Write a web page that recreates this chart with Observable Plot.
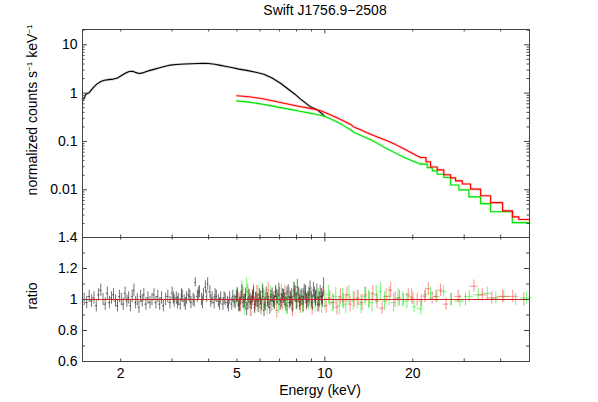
<!DOCTYPE html>
<html><head><meta charset="utf-8">
<script src="https://cdn.jsdelivr.net/npm/d3@7"></script>
<script src="https://cdn.jsdelivr.net/npm/@observablehq/plot@0.6"></script>
<style>
body{margin:0;background:#fff;}
#wrap{position:relative;width:598px;height:402px;font-family:"Liberation Sans",Arial,sans-serif;}
#wrap svg{position:absolute;left:0;top:0;}
</style></head><body><div id="wrap"></div>
<script>
// ---------- data ----------
const titleText = "Swift J1756.9\u22122508";
const xTickLabels = [2, 5, 10, 20];
const xMajorTicks = [10];
const xMinorTicks = [2, 3, 4, 5, 6, 7, 8, 9, 20, 30, 40];
const yTopLabels = [10, 1, 0.1, 0.01];
const yTopMajor = [0.01, 0.1, 1, 10];
const yTopMinor = [0.002,0.003,0.004,0.005,0.006,0.007,0.008,0.009,
  0.02,0.03,0.04,0.05,0.06,0.07,0.08,0.09,0.2,0.3,0.4,0.5,0.6,0.7,0.8,0.9,
  2,3,4,5,6,7,8,9,20];
const yRatioMajor = [0.6, 0.8, 1, 1.2, 1.4];
const yRatioMinor = [0.7, 0.9, 1.1, 1.3];

// spectra (energy keV, normalized counts)
const blackSpec = [[1.48,0.75],[1.50,0.77],[1.515,0.92],[1.53,0.97],[1.56,1.02],[1.59,1.18],[1.62,1.35],[1.66,1.55],[1.71,1.74],[1.76,1.85],[1.82,1.90],[1.89,1.95],[1.95,2.05],[2.02,2.35],[2.08,2.6],[2.14,2.8],[2.20,2.82],[2.26,2.65],[2.31,2.55],[2.38,2.62],[2.45,2.8],[2.52,2.95],[2.60,3.1],[2.70,3.3],[2.80,3.5],[2.96,3.8],[3.10,3.9],[3.30,4.0],[3.50,4.05],[3.66,4.1],[3.85,4.15],[4.00,4.1],[4.20,3.95],[4.39,3.75],[4.60,3.55],[4.80,3.38],[5.08,3.14],[5.40,2.95],[5.80,2.7],[6.18,2.45],[6.60,2.05],[7.05,1.6],[7.50,1.2],[7.90,0.95],[8.26,0.75],[8.60,0.62],[8.93,0.52],[9.42,0.45],[9.70,0.39],[9.95,0.34]];
const redSpec = [[5.0,0.88],[5.5,0.84],[6.0,0.78],[6.5,0.71],[7.05,0.64],[7.6,0.58],[8.2,0.53],[8.8,0.49],[9.3,0.46],[9.67,0.43],[10.2,0.38],[11.0,0.31],[11.6,0.265],[12.25,0.225],[12.57,0.2],[13.3,0.172],[14.2,0.145],[15.2,0.122],[16.36,0.103],[17.4,0.087],[18.5,0.072],[19.7,0.059],[20.5,0.052],[21.3,0.0464]];
const redSteps = [[21.3,0.0464],[22.2,0.038],[23.01,0.0297],[24.26,0.0258],[25.55,0.0204],[26.95,0.0176],[28.03,0.0153],[29.55,0.0132],[31.55,0.0103],[34.14,0.0075],[36.94,0.00543],[40.6,0.00366],[43.9,0.00275],[46.17,0.00242],[50.2,0.00242]];
const greenSpec = [[5.0,0.69],[5.5,0.65],[6.0,0.60],[6.5,0.55],[7.05,0.50],[7.6,0.46],[8.2,0.42],[8.8,0.39],[9.3,0.365],[9.92,0.335],[10.5,0.29],[11.2,0.24],[11.7,0.205],[12.25,0.175],[12.57,0.155],[13.4,0.13],[14.3,0.11],[15.3,0.088],[16.36,0.07],[17.4,0.058],[18.5,0.048],[19.7,0.041],[20.5,0.037],[21.27,0.0339]];
const greenSteps = [[21.27,0.0339],[22.42,0.0288],[23.32,0.0246],[24.26,0.0210],[25.55,0.0179],[26.95,0.0126],[28.77,0.00995],[31.13,0.00713],[34.14,0.00518],[36.94,0.0035],[43.84,0.00209],[50.2,0.00209]];

// ratio (energy, ratio, error)
const blackRatio = [[1.50,1.00,.04],[1.53,0.98,.04],[1.56,1.02,.04],[1.59,0.99,.04],[1.62,1.01,.04],[1.65,0.96,.04],[1.68,1.03,.04],[1.71,1.06,.04],[1.74,1.00,.04],[1.77,0.97,.04],[1.80,1.04,.04],[1.83,0.98,.04],[1.86,1.01,.04],[1.89,1.03,.04],[1.92,0.99,.04],[1.95,0.96,.04],[1.98,1.02,.04],[2.01,1.00,.04],[2.04,0.97,.04],[2.07,1.04,.04],[2.10,0.99,.04],[2.13,1.01,.04],[2.16,0.96,.04],[2.19,1.02,.04],[2.22,1.06,.04],[2.25,0.98,.04],[2.28,1.00,.04],[2.31,0.95,.04],[2.34,1.02,.04],[2.37,0.99,.04],[2.40,1.03,.04],[2.44,0.97,.04],[2.48,1.01,.04],[2.52,0.98,.04],[2.56,1.00,.04],[2.60,1.03,.04],[2.64,0.98,.04],[2.68,1.02,.04],[2.72,0.97,.04],[2.76,1.01,.04],[2.80,0.96,.04],[2.85,1.00,.04],[2.90,1.02,.04],[2.95,0.98,.04],[3.00,1.04,.04],[3.05,0.99,.04],[3.10,1.01,.04],[3.15,1.00,.04],[3.20,0.97,.04],[3.25,1.02,.04],[3.30,0.99,.04],[3.36,1.01,.04],[3.42,1.03,.04],[3.48,0.98,.04],[3.54,1.00,.04],[3.60,1.11,.03],[3.66,1.02,.04],[3.72,1.05,.04],[3.78,1.00,.04],[3.84,1.03,.04],[3.90,1.08,.04],[3.97,1.10,.04],[4.04,1.05,.04],[4.11,1.01,.04],[4.18,0.98,.04],[4.25,1.02,.04],[4.32,0.99,.04],[4.40,1.01,.04],[4.48,0.97,.04],[4.56,1.00,.04],[4.64,0.98,.04],[4.72,1.01,.04],[4.80,0.97,.04],[4.89,0.99,.04],[4.98,1.02,.04],[5.07,0.96,.04],[5.16,1.01,.04],[5.25,0.98,.04],[5.35,1.03,.04],[5.45,0.97,.04],[5.55,1.00,.04],[5.65,1.02,.04],[5.75,0.95,.04],[5.86,0.99,.04],[5.97,1.03,.04],[6.08,0.97,.04],[6.19,0.93,.04],[6.30,1.04,.04],[6.42,0.98,.04],[6.54,1.02,.04],[6.66,0.99,.04],[6.78,1.05,.04],[6.90,1.01,.04],[7.03,0.97,.04],[7.16,1.03,.04],[7.29,1.00,.04],[7.42,1.04,.04],[7.56,0.98,.04],[7.70,1.02,.05],[7.84,1.06,.05],[7.98,0.99,.05],[8.13,1.03,.05],[8.28,1.01,.05],[8.43,0.97,.05],[8.58,1.04,.05],[8.74,1.00,.05],[8.90,1.07,.05],[9.06,0.98,.05],[9.22,1.03,.05],[9.39,1.05,.05],[9.56,1.00,.05],[9.73,1.02,.05],[9.90,1.08,.06]];
const blackRatioExtra = [[3.03,1.01,.04],[3.13,0.98,.04],[3.23,1.03,.04],[3.33,0.97,.04],[3.45,1.02,.04],[3.57,0.99,.04],[3.69,1.04,.04],[3.81,0.98,.04],[3.94,1.02,.04],[4.07,0.99,.04],[4.21,1.03,.04],[4.36,0.97,.04],[4.52,1.01,.04],[4.68,0.96,.04],[4.84,1.02,.04],[4.93,0.98,.04],[5.02,1.03,.045],[5.11,0.97,.045],[5.20,1.05,.045],[5.30,0.99,.045],[5.40,0.94,.045],[5.50,1.02,.045],[5.60,0.98,.045],[5.70,1.04,.045],[5.80,1.00,.045],[5.91,0.96,.045],[6.02,1.01,.045],[6.13,1.05,.045],[6.24,0.97,.045],[6.36,1.00,.045],[6.48,0.95,.045],[6.60,1.03,.045],[6.72,0.98,.045],[6.84,1.02,.045],[6.96,1.06,.045],[7.09,0.99,.045],[7.22,1.02,.045],[7.35,0.97,.045],[7.49,1.05,.045],[7.63,1.00,.05],[7.77,0.97,.05],[7.91,1.04,.05],[8.05,1.08,.05],[8.20,0.98,.05],[8.35,1.02,.05],[8.50,1.05,.05],[8.66,0.99,.05],[8.82,1.03,.05],[8.98,1.00,.05],[9.14,1.06,.05],[9.30,1.01,.05],[9.47,0.97,.05],[9.64,1.04,.05],[9.81,1.00,.05]];
const redRatio = [[5.05,1.00,.05],[5.15,0.97,.05],[5.25,1.03,.05],[5.35,0.98,.05],[5.45,1.05,.05],[5.55,0.95,.06],[5.65,1.01,.05],[5.75,0.97,.05],[5.85,1.04,.05],[5.95,0.99,.05],[6.05,0.95,.05],[6.15,1.02,.05],[6.25,0.98,.05],[6.40,1.06,.05],[6.55,0.97,.05],[6.70,1.00,.05],[6.85,0.93,.05],[7.00,1.03,.05],[7.15,0.98,.05],[7.30,1.04,.05],[7.45,0.96,.05],[7.60,1.01,.05],[7.75,0.94,.05],[7.90,1.03,.05],[8.05,0.99,.05],[8.25,0.96,.05],[8.45,1.02,.05],[8.65,0.98,.05],[8.85,1.01,.05],[9.05,0.95,.05],[9.30,1.00,.05],[9.55,0.97,.05],[9.80,1.02,.05],[10.1,0.96,.05],[10.4,1.01,.05],[10.7,0.98,.05],[11.0,0.95,.05],[11.3,1.02,.05],[11.6,0.99,.05],[11.9,1.03,.05],[12.2,0.97,.05],[12.6,1.00,.05],[13.0,1.01,.05],[13.4,0.98,.05],[13.8,1.03,.05],[14.2,1.00,.05],[14.6,1.04,.05],[15.1,0.99,.05],[15.7,0.944,.04],[16.2,1.02,.05],[16.8,1.06,.05],[17.4,1.00,.05],[18.0,1.01,.05],[18.6,1.00,.04],[19.3,1.03,.04],[20.0,1.01,.04],[20.7,1.00,.04],[21.4,0.99,.04],[22.0,1.02,.04],[22.6,1.07,.04],[23.3,1.01,.04],[24.0,1.02,.04],[24.9,1.06,.04],[26.0,0.97,.04],[27.1,1.00,.04],[28.6,1.02,.04],[30.3,1.00,.04],[32.4,1.086,.04],[34.6,1.03,.04],[37.3,1.01,.04],[40.6,1.02,.04],[44.0,1.02,.04],[48.0,1.00,.045]];
const greenRatio = [[5.0,1.02,.06],[5.1,0.98,.06],[5.2,1.06,.06],[5.3,0.96,.06],[5.4,1.08,.06],[5.5,1.01,.06],[5.6,0.95,.06],[5.7,1.04,.06],[5.8,0.99,.06],[5.9,1.03,.06],[6.0,0.97,.06],[6.1,1.05,.06],[6.2,1.00,.06],[6.35,0.96,.06],[6.5,1.03,.06],[6.65,0.99,.06],[6.8,1.02,.06],[6.95,0.97,.06],[7.1,1.04,.06],[7.25,1.00,.06],[7.4,0.96,.06],[7.55,1.02,.06],[7.7,0.98,.06],[7.85,1.05,.06],[8.0,0.99,.06],[8.2,1.01,.06],[8.4,0.97,.06],[8.6,1.03,.06],[8.8,0.99,.06],[9.0,1.02,.06],[9.25,0.98,.06],[9.5,1.01,.06],[9.75,0.97,.06],[10.0,1.00,.06],[10.3,1.03,.06],[10.6,0.98,.06],[10.9,1.02,.06],[11.2,0.96,.06],[11.5,1.01,.06],[11.8,0.97,.06],[12.1,1.03,.06],[12.5,0.99,.06],[12.9,1.00,.06],[13.3,0.97,.06],[13.7,1.02,.06],[14.1,1.00,.06],[14.5,0.98,.06],[15.0,1.03,.06],[15.5,1.05,.06],[16.0,0.99,.06],[16.6,1.02,.06],[17.2,0.98,.06],[17.8,1.01,.06],[18.4,1.00,.05],[19.1,0.99,.05],[19.8,1.02,.05],[20.2,0.953,.04],[21.3,0.94,.04],[22.1,1.03,.04],[23.0,1.04,.04],[24.2,1.02,.04],[25.5,1.05,.04],[27.0,1.00,.04],[29.0,0.99,.04],[31.2,1.02,.04],[33.5,1.03,.04],[36.0,1.04,.04],[38.5,1.01,.04],[41.0,1.02,.04],[45.0,1.00,.04],[49.0,1.01,.04]];

// ---------- layout ----------
const W = 598, H = 402;
const mL = 82, mR = 69, topT = 29, midY = 237, botB = 361;
const FW = W - mL - mR, TH = midY - topT, BH = botB - midY;
const AX = "#444";
const FONT = "Liberation Sans, Arial, Helvetica, sans-serif";
const xDomain = [1.48, 50.2];

function withBins(rows) {
  return rows.map((d, i) => {
    const prev = i > 0 ? rows[i-1][0] : d[0] * d[0] / rows[i+1][0];
    const next = i < rows.length - 1 ? rows[i+1][0] : d[0] * d[0] / rows[i-1][0];
    return {e: d[0], r: d[1], err: d[2], lo: Math.sqrt(d[0]*prev), hi: Math.sqrt(d[0]*next)};
  });
}
function xTickMarks(vals, len, h) {
  return [Plot.ruleX(vals, {x: d => d, insetTop: h - len, stroke: AX}),
          Plot.ruleX(vals, {x: d => d, insetBottom: h - len, stroke: AX})];
}
function yTickMarks(vals, len) {
  return [Plot.ruleY(vals, {y: d => d, insetRight: FW - len, stroke: AX}),
          Plot.ruleY(vals, {y: d => d, insetLeft: FW - len, stroke: AX})];
}
function errMarks(rows, color, op) {
  const b = withBins(rows);
  return [Plot.ruleX(b, {x: "e", y1: d => d.r - d.err, y2: d => d.r + d.err, stroke: color, strokeOpacity: op}),
          Plot.ruleY(b, {y: "r", x1: "lo", x2: "hi", stroke: color, strokeOpacity: op})];
}
const commonStyle = {background: "transparent", overflow: "visible", fontFamily: FONT};
const blackAll = [...blackRatio, ...blackRatioExtra].sort((a, b) => a[0] - b[0]);

const topPlot = Plot.plot({
  width: W, height: H, marginTop: topT, marginBottom: H - midY, marginLeft: mL, marginRight: mR,
  style: commonStyle,
  x: {type: "log", domain: xDomain, axis: null},
  y: {type: "log", domain: [0.00103, 20.7], axis: null},
  marks: [
    Plot.line(blackSpec, {x: d => d[0], y: d => d[1], stroke: "#888", strokeWidth: 2.6, strokeOpacity: 0.35}),
    Plot.line(blackSpec, {x: d => d[0], y: d => d[1], stroke: "#000", strokeWidth: 1.1}),
    Plot.line(greenSpec, {x: d => d[0], y: d => d[1], stroke: "#66ff66", strokeWidth: 2.6, strokeOpacity: 0.35}),
    Plot.line(greenSteps, {x: d => d[0], y: d => d[1], curve: "step-after", stroke: "#66ff66", strokeWidth: 2.6, strokeOpacity: 0.35}),
    Plot.line(greenSpec, {x: d => d[0], y: d => d[1], stroke: "#00e000", strokeWidth: 1.1}),
    Plot.line(greenSteps, {x: d => d[0], y: d => d[1], curve: "step-after", stroke: "#00e000", strokeWidth: 1.1}),
    Plot.line(redSpec, {x: d => d[0], y: d => d[1], stroke: "#ff6666", strokeWidth: 2.6, strokeOpacity: 0.35}),
    Plot.line(redSteps, {x: d => d[0], y: d => d[1], curve: "step-after", stroke: "#ff6666", strokeWidth: 2.6, strokeOpacity: 0.35}),
    Plot.line(redSpec, {x: d => d[0], y: d => d[1], stroke: "#ff0000", strokeWidth: 1.1}),
    Plot.line(redSteps, {x: d => d[0], y: d => d[1], curve: "step-after", stroke: "#ff0000", strokeWidth: 1.1}),
    ...xTickMarks(xMinorTicks, 2.5, TH),
    ...xTickMarks(xMajorTicks, 4.5, TH),
    ...yTickMarks(yTopMinor, 2.5),
    ...yTickMarks(yTopMajor, 5),
    Plot.text(yTopLabels, {y: d => d, text: d => String(d), frameAnchor: "left", textAnchor: "end", dx: -5, fontSize: 14, fill: "#000", fontFamily: FONT}),
    Plot.frame({stroke: AX})
  ]
});

const botPlot = Plot.plot({
  width: W, height: H, marginTop: midY, marginBottom: H - botB, marginLeft: mL, marginRight: mR,
  style: commonStyle,
  x: {type: "log", domain: xDomain, axis: null},
  y: {type: "linear", domain: [0.6, 1.4], axis: null},
  marks: [
    ...errMarks(greenRatio, "#22ee22", 0.6),
    ...errMarks(redRatio, "#ff2020", 0.5),
    ...errMarks(blackAll, "#000", 0.55),
    Plot.ruleY([1], {stroke: "#d42020", strokeWidth: 1}),
    ...xTickMarks(xMinorTicks, 2.5, BH),
    ...xTickMarks(xMajorTicks, 4.5, BH),
    ...yTickMarks(yRatioMinor, 3),
    ...yTickMarks(yRatioMajor, 5),
    Plot.text(yRatioMajor, {y: d => d, text: d => String(d), frameAnchor: "left", textAnchor: "end", dx: -5, fontSize: 14, fill: "#000", fontFamily: FONT}),
    Plot.text(xTickLabels, {x: d => d, text: d => String(d), frameAnchor: "bottom", lineAnchor: "top", dy: 7, fontSize: 14, fill: "#000", fontFamily: FONT}),
    Plot.frame({stroke: AX})
  ]
});

const wrap = document.getElementById("wrap");
wrap.appendChild(topPlot);
wrap.appendChild(botPlot);

// overlay text: title & axis titles
const ov = d3.select(wrap).append("svg").attr("width", W).attr("height", H)
  .style("font-family", FONT).style("pointer-events", "none");
ov.append("text").attr("x", 325).attr("y", 15).attr("text-anchor", "middle")
  .attr("font-size", 14).text(titleText);
ov.append("text").attr("x", 320).attr("y", 395).attr("text-anchor", "middle")
  .attr("font-size", 14).text("Energy (keV)");
const yl = ov.append("text").attr("transform", "translate(37,110) rotate(-90)")
  .attr("text-anchor", "middle").attr("font-size", 14);
yl.append("tspan").text("normalized counts s");
yl.append("tspan").attr("font-size", 8).attr("dy", -5).text("\u22121");
yl.append("tspan").attr("dy", 5).text(" keV");
yl.append("tspan").attr("font-size", 8).attr("dy", -5).text("\u22121");
ov.append("text").attr("transform", "translate(37,296) rotate(-90)")
  .attr("text-anchor", "middle").attr("font-size", 14).text("ratio");
</script></body></html>
